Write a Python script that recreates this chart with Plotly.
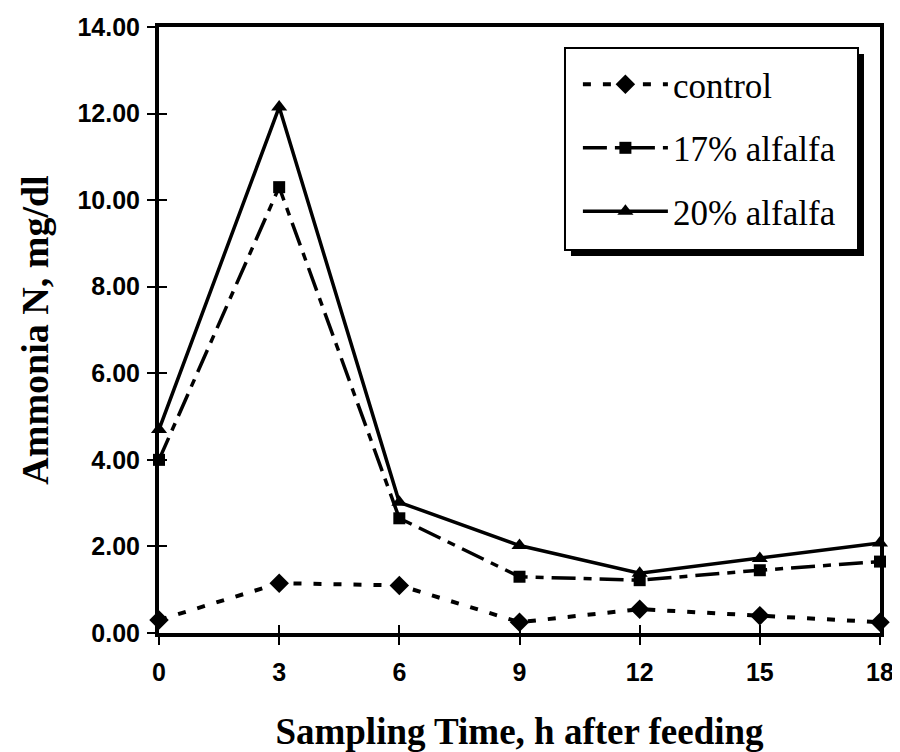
import plotly.graph_objects as go

hours = [0, 3, 6, 9, 12, 15, 18]
control = [0.30, 1.15, 1.10, 0.25, 0.55, 0.40, 0.25]
alfalfa17 = [4.00, 10.30, 2.65, 1.30, 1.22, 1.45, 1.65]
alfalfa20 = [4.70, 12.15, 3.02, 2.02, 1.38, 1.72, 2.08]
y_ticks = [0, 2, 4, 6, 8, 10, 12, 14]
y_tick_text = ["0.00", "2.00", "4.00", "6.00", "8.00", "10.00", "12.00", "14.00"]
x_tick_text = ["0", "3", "6", "9", "12", "15", "18"]

fig = go.Figure()
# control drawn on the overlay axes (identical ranges) so those axes render the inner tick halves
fig.add_trace(go.Scatter(x=hours, y=control, name="control", mode="lines+markers",
                         legendgroup="a", xaxis="x2", yaxis="y2",
                         line=dict(color="black", width=4, dash="8px,12px"),
                         marker=dict(symbol="diamond", size=15, color="black"),
                         cliponaxis=False))
fig.add_trace(go.Scatter(x=hours, y=alfalfa17, name="17% alfalfa", mode="lines+markers",
                         legendgroup="b",
                         line=dict(color="black", width=3.5, dash="24px,8px,8px,8px"),
                         marker=dict(symbol="square", size=12, color="black"),
                         cliponaxis=False))
fig.add_trace(go.Scatter(x=hours, y=alfalfa20, name="20% alfalfa", mode="lines+markers",
                         legendgroup="c",
                         line=dict(color="black", width=3.5),
                         marker=dict(symbol="triangle-up", size=14, color="black"),
                         cliponaxis=False))

tick_common = dict(showgrid=False, zeroline=False, tickcolor="black", tickwidth=2, ticklen=8)

fig.update_layout(
    width=892, height=744,
    margin=dict(l=151, r=20, t=19, b=119),
    paper_bgcolor="white", plot_bgcolor="white",
    showlegend=True,
    xaxis=dict(range=[0, 18], tickvals=hours, ticktext=["<b>%s</b>" % t for t in x_tick_text],
               ticks="outside", showline=True, mirror=True, linecolor="black", linewidth=4,
               ticklabelstandoff=6, automargin=False,
               tickfont=dict(family="Liberation Sans", size=25, color="black"),
               title=dict(text="<b>Sampling Time, h after feeding</b>", standoff=34,
                          font=dict(family="Liberation Serif", size=37, color="black")),
               **tick_common),
    yaxis=dict(range=[0, 14], tickvals=y_ticks, ticktext=["<b>%s</b>" % t for t in y_tick_text],
               ticks="outside", showline=True, mirror=True, linecolor="black", linewidth=4,
               ticklabelstandoff=2, automargin=False,
               tickfont=dict(family="Liberation Sans", size=25, color="black"),
               title=dict(text="<b>Ammonia N, mg/dl</b>", standoff=18,
                          font=dict(family="Liberation Serif", size=38, color="black")),
               **tick_common),
    xaxis2=dict(range=[0, 18], tickvals=hours, ticks="inside", overlaying="x", anchor="y",
                showticklabels=False, showline=False, automargin=False, **tick_common),
    yaxis2=dict(range=[0, 14], tickvals=y_ticks, ticks="inside", overlaying="y", anchor="x",
                side="left", showticklabels=False, showline=False, automargin=False, **tick_common),
    legend=dict(x=0.581, y=0.9537, xanchor="left", yanchor="top",
                bgcolor="rgba(0,0,0,0)", borderwidth=0,
                font=dict(family="Liberation Serif", size=35, color="black"),
                itemwidth=85, tracegroupgap=15, traceorder="grouped"),
    shapes=[
        dict(type="rect", xref="paper", yref="paper",
             x0=0.5714, x1=0.9778, y0=0.6221, y1=0.9554,
             fillcolor="black", line=dict(width=0), layer="above"),
        dict(type="rect", xref="paper", yref="paper",
             x0=0.5631, x1=0.9695, y0=0.632, y1=0.9653,
             fillcolor="white", line=dict(color="black", width=2), layer="above"),
    ],
)

fig.write_html("out.html")
